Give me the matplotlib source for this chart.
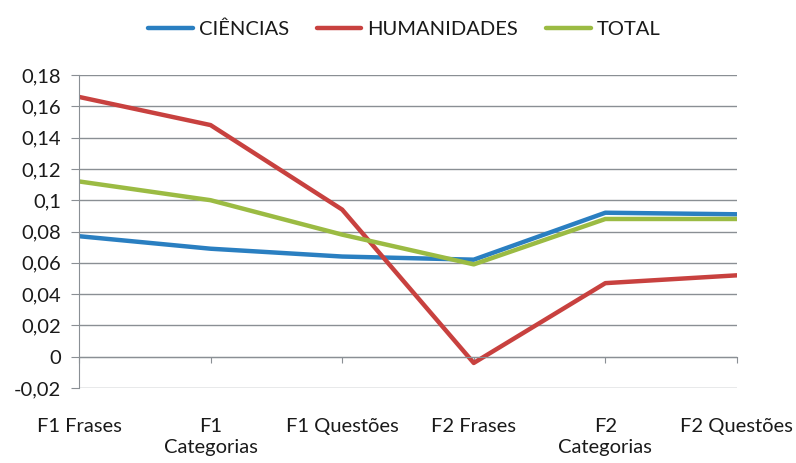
import matplotlib
matplotlib.use("Agg")
import matplotlib.pyplot as plt
from matplotlib.ticker import FuncFormatter, MultipleLocator

# categorias e séries
categorias = ["F1 Frases", "F1\nCategorias", "F1 Questões",
              "F2 Frases", "F2\nCategorias", "F2 Questões"]
ciencias = [0.077, 0.069, 0.064, 0.062, 0.092, 0.091]
humanidades = [0.166, 0.148, 0.094, -0.004, 0.047, 0.052]
total = [0.112, 0.100, 0.078, 0.059, 0.088, 0.088]

plt.rcParams['font.family'] = ['Lato', 'DejaVu Sans']
plt.rcParams['axes.unicode_minus'] = False

fig = plt.figure(figsize=(7.96, 4.63), dpi=100)
ax = fig.add_axes([0.0992, 0.162, 0.8266, 0.676])

x = range(len(categorias))
ax.plot(x, ciencias, color='#2a7fc1', lw=3.2, label='CIÊNCIAS', solid_capstyle='round')
ax.plot(x, humanidades, color='#c8413f', lw=3.2, label='HUMANIDADES', solid_capstyle='round')
ax.plot(x, total, color='#9bbb43', lw=3.2, label='TOTAL', solid_capstyle='round')

ax.set_xlim(0, 5)
ax.set_ylim(-0.02, 0.18)
ax.yaxis.set_major_locator(MultipleLocator(0.02))

def fmt(v, pos):
    s = "%g" % round(v, 3)
    return s.replace('.', ',')

ax.yaxis.set_major_formatter(FuncFormatter(fmt))
ax.grid(axis='y', color='#8a8f94', lw=1.0)
ax.set_axisbelow(True)

for s in ['top', 'right']:
    ax.spines[s].set_visible(False)
ax.spines['left'].set_color('#8a8f94')
ax.spines['bottom'].set_color('#8a8f94')
ax.spines['bottom'].set_position(('data', 0))

ax.set_xticks(list(x))
ax.set_xticklabels(categorias, linespacing=1.3)
ax.tick_params(axis='x', length=4.3, color='#8a8f94', pad=40, labelsize=14.5,
               labelcolor='#1a1a1a')
ax.tick_params(axis='y', length=5.8, color='#8a8f94', pad=7, labelsize=14.5,
               labelcolor='#1a1a1a')

fig.legend(loc='upper center', bbox_to_anchor=(0.508, 0.995), ncol=3, frameon=False,
           fontsize=14.5, handlelength=2.2, handletextpad=0.3, columnspacing=1.4,
           labelcolor='#1a1a1a')

fig.savefig("out.png", dpi=100)
